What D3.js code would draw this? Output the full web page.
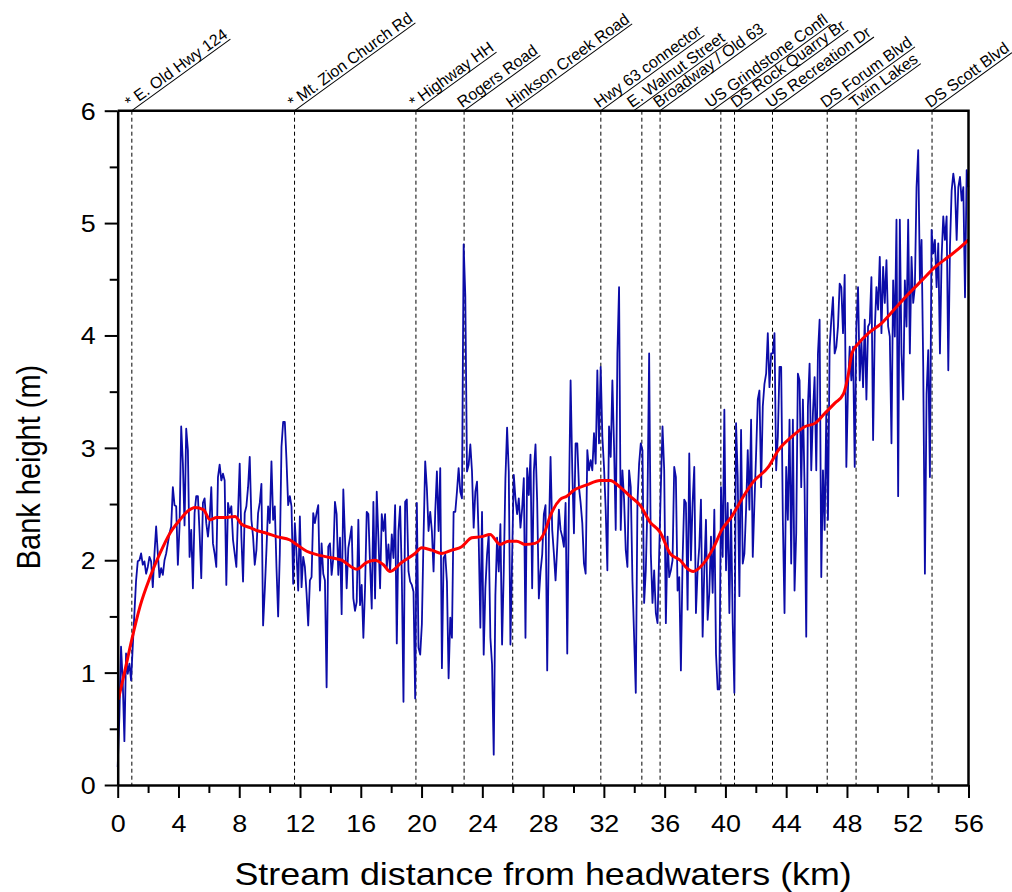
<!DOCTYPE html>
<html lang="en">
<head>
  <meta charset="utf-8">
  <title>Bank height along the stream</title>
  <script src="https://d3js.org/d3.v7.min.js"></script>
</head>
<style>
body {
  margin: 0;
  background: white;
}
svg text {
  font-family: "Liberation Sans", Arial, sans-serif;
  fill: black;
}
.frame {
  stroke: black;
  stroke-width: 2.5;
  fill: none;
}
.crossing-line {
  stroke: black;
  stroke-width: 1;
  stroke-dasharray: 4,3;
}
.crossing-label {
  font-size: 16px;
}
.crossing-underline {
  stroke: black;
  stroke-width: 1;
}
.tick-label {
  font-size: 24px;
}
.axis-title {
  font-size: 32px;
}
.y-title {
  font-size: 29px;
}
.bank-line {
  fill: none;
  stroke: #0c0ca8;
  stroke-width: 1.8;
  stroke-linejoin: round;
}
.smooth-line {
  fill: none;
  stroke: #ff0000;
  stroke-width: 3;
  stroke-linejoin: round;
}
</style>
<body>
  <div class="chart"></div>

  <script type="text/javascript">
  // bank height sampled every 0.11 km from the headwaters (m)
  var sampleStepKm = 0.11;
  var bankHeight = [
    0.16,0.61,1.23,0.93,0.39,1.17,0.99,1.08,0.93,1.23,
    1.53,1.82,1.99,2.00,2.06,1.96,1.99,1.88,1.94,2.03,
    1.99,1.76,2.06,2.30,2.06,1.85,1.93,1.87,2.00,2.06,
    2.15,2.24,2.30,2.65,2.49,2.48,1.96,2.30,3.19,2.86,
    2.31,3.17,2.98,2.03,2.27,1.75,2.42,2.57,2.57,2.24,
    1.84,2.51,2.55,2.33,2.21,2.36,2.65,2.15,2.06,1.94,
    2.74,2.85,2.71,2.77,2.71,1.78,2.51,2.42,2.48,2.18,
    2.06,1.94,2.42,2.86,2.21,1.81,2.42,2.48,2.65,2.92,
    2.36,2.21,1.96,2.09,2.42,2.51,2.68,1.42,1.73,2.09,
    2.48,2.33,2.88,2.36,2.48,1.94,1.50,2.06,3.01,3.23,
    3.23,2.89,2.49,2.57,2.48,1.79,2.33,2.06,1.73,2.39,
    1.76,2.03,1.94,1.71,1.42,1.82,1.85,2.42,2.33,2.42,
    2.49,1.73,2.15,1.88,1.82,0.87,2.12,2.15,
    1.87,2.02,2.52,2.41,1.87,2.20,1.52,2.63,2.20,1.75,
    2.11,2.20,2.30,1.66,1.55,1.63,2.36,1.60,1.78,1.31,
    1.75,2.43,2.41,1.96,1.57,2.52,1.66,2.61,2.20,1.75,
    2.41,2.26,2.41,1.93,2.14,1.90,2.23,2.02,2.49,1.26,
    2.26,2.48,1.87,0.74,2.52,2.54,1.90,1.81,1.78,1.72,
    0.77,2.51,1.22,1.16,1.43,2.20,2.88,2.64,2.26,2.43,
    2.26,1.90,2.43,2.79,2.26,2.82,1.04,2.02,2.05,1.81,
    0.95,1.49,1.31,2.43,2.43,2.61,2.82,2.61,2.55,4.81,
    4.35,2.79,2.85,3.03,2.79,2.29,2.61,2.70,2.20,1.40,
    2.43,1.16,1.75,2.05,2.23,1.31,1.07,0.27,1.69,2.20,
    1.90,2.32,1.25,1.90,2.73,3.18,2.79,1.25,2.02,2.76,
    2.55,2.41,2.55,2.29,2.46,2.73,1.31,2.82,2.58,2.94,
    1.75,2.79,3.03,2.52,1.66,1.90,2.05,2.41,2.49,
    1.02,2.21,2.92,2.27,2.06,1.82,2.12,2.45,2.27,2.21,
    2.12,2.51,1.17,2.51,3.60,2.80,2.24,3.04,3.04,2.65,
    2.51,2.33,1.97,1.88,2.98,2.80,2.89,2.80,3.13,2.86,
    3.69,3.04,3.72,3.10,2.83,2.45,1.91,3.19,2.92,3.60,
    3.01,2.27,3.84,4.43,2.27,2.80,2.54,2.09,1.94,2.80,
    2.65,1.82,1.32,0.82,2.51,2.86,3.04,2.98,1.62,1.91,
    2.51,3.84,2.06,1.62,1.91,1.53,1.44,2.06,2.65,3.19,
    2.80,1.44,2.21,1.85,1.91,2.00,2.83,2.74,1.73,1.85,
    1.02,2.00,2.54,2.51,1.56,2.95,2.00,2.51,2.83,1.53,
    1.91,2.12,2.54,1.32,1.91,2.36,1.47,1.71,2.21,1.71,
    2.45,1.17,0.85,0.85,2.65,2.03,3.34,1.91,2.51,1.53,
    2.45,1.44,0.82,3.22,2.74,1.68,3.16,1.97,2.06,2.45,
    2.98,2.45,3.25,2.03,2.51,2.95,3.43,3.51,
    2.65,3.37,3.57,3.66,4.02,3.54,3.84,3.84,4.02,2.80,
    3.10,3.72,3.72,2.36,1.53,2.83,2.36,3.25,1.97,3.25,
    1.73,2.24,3.66,3.60,2.65,3.43,2.65,1.32,3.37,3.75,
    2.80,3.31,3.63,2.80,3.84,4.14,1.85,2.80,2.27,3.31,
    2.36,3.90,4.14,4.34,3.84,3.90,4.08,4.46,4.43,4.02,
    4.54,2.83,3.54,3.90,3.60,3.90,2.83,4.08,4.43,3.60,
    3.96,3.54,4.14,3.43,4.08,4.11,4.52,3.07,4.05,4.43,
    4.23,4.70,4.02,4.61,4.29,4.67,4.08,3.99,3.04,4.49,
    3.99,5.03,2.57,5.03,3.84,3.43,4.49,4.08,5.03,3.84,
    4.70,4.29,4.43,5.32,5.65,4.49,4.85,3.72,1.88,3.48,
    3.87,2.74,4.94,4.73,4.85,4.43,4.82,3.84,4.70,5.06,
    4.85,5.06,3.69,4.79,5.29,5.44,5.32,4.85,5.32,5.41,
    5.20,5.32,4.34,5.47,5.32
  ];

  // smoothed trend (red)
  var smoothKm = [
    0.04,0.48,0.92,1.47,2.13,2.78,3.44,4.10,4.64,5.09,5.64,6.08,6.51,7.06,7.72,
    8.16,8.71,9.26,9.80,10.46,11.34,11.78,12.44,13.10,13.76,14.74,15.73,16.39,
    16.94,17.49,17.93,18.69,19.57,20.01,20.67,21.33,21.99,22.64,23.30,23.96,
    24.51,25.17,25.72,26.26,26.81,27.47,28.13,28.46,29.12,29.56,30.00,30.87,
    31.75,32.41,33.07,33.72,34.38,35.04,35.70,36.36,37.02,37.46,37.89,38.55,
    39.21,39.76,40.42,41.19,41.84,42.83,43.49,44.37,45.25,45.91,46.56,47.22,
    47.77,48.10,48.32,48.76,49.42,50.29,51.17,52.05,52.93,53.81,54.68,55.34,56.00
  ];
  var smoothHeight = [
    0.76,1.02,1.29,1.59,1.85,2.06,2.24,2.36,2.44,2.47,2.45,2.36,2.38,2.38,2.39,
    2.32,2.29,2.26,2.24,2.21,2.18,2.14,2.08,2.05,2.03,2.00,1.92,1.98,
    2.00,1.96,1.90,1.98,2.06,2.11,2.09,2.06,2.09,2.12,2.20,2.21,
    2.23,2.14,2.17,2.17,2.14,2.15,2.26,2.39,2.54,2.57,2.62,2.67,
    2.71,2.71,2.65,2.57,2.49,2.34,2.25,2.06,2.00,1.93,1.90,1.97,
    2.11,2.27,2.39,2.57,2.70,2.83,2.98,3.10,3.19,3.22,3.31,3.40,
    3.48,3.66,3.84,3.93,4.02,4.11,4.24,4.37,4.49,4.61,4.70,4.77,4.85
  ];

  // road crossings
  var crossingKm = [0.93, 11.64, 19.63, 22.8, 26.0, 31.8, 34.5, 35.7, 39.7, 40.6, 43.1, 46.7, 48.6, 53.6];
  var crossingName = [
    "* E. Old Hwy 124", "* Mt. Zion Church Rd", "* Highway HH", "Rogers Road",
    "Hinkson Creek Road", "Hwy 63 connector", "E. Walnut Street", "Broadway / Old 63",
    "US Grindstone Confl", "DS Rock Quarry Br", "US Recreation Dr", "DS Forum Blvd",
    "Twin Lakes", "DS Scott Blvd"
  ];

  var xTicks = [0, 4, 8, 12, 16, 20, 24, 28, 32, 36, 40, 44, 48, 52, 56];
  var xMinorTicks = [2, 6, 10, 14, 18, 22, 26, 30, 34, 38, 42, 46, 50, 54];
  var yTicks = [0, 1, 2, 3, 4, 5, 6];
  var yMinorTicks = [0.5, 1.5, 2.5, 3.5, 4.5, 5.5];

  var width = 1012;
  var height = 892;
  var plot = {left: 117.7, right: 968.5, top: 110.7, bottom: 785};
  var stretch = 1.12;
  var labelAngle = -36;
  // a few labels are nudged sideways so they don't collide
  var labelNudge = {"E. Walnut Street": -8, "US Grindstone Confl": -9, "DS Rock Quarry Br": 3};

  var svg = d3.select(".chart")
    .append("svg")
    .attr("width", width)
    .attr("height", height);

  var x = d3.scaleLinear().domain([0, 56]).range([plot.left, plot.right]);
  var y = d3.scaleLinear().domain([0, 6]).range([plot.bottom, plot.top]);

  var bankData = bankHeight.map(function(h, i) {
    return {km: i * sampleStepKm, h: h};
  });
  var smoothData = smoothKm.map(function(k, i) {
    return {km: k, h: smoothHeight[i]};
  });

  // crossings
  svg.selectAll(".crossing-line")
    .data(crossingKm)
    .enter()
    .append("line")
    .attr("class", "crossing-line")
    .attr("x1", function(d){ return x(d); })
    .attr("x2", function(d){ return x(d); })
    .attr("y1", plot.top)
    .attr("y2", plot.bottom);

  var labels = svg.selectAll(".crossing")
    .data(crossingKm)
    .enter()
    .append("g")
    .attr("class", "crossing")
    .attr("transform", function(d, i){
      var nudge = labelNudge[crossingName[i]] || 0;
      return "translate(" + (x(d) + nudge) + "," + plot.top + ") rotate(" + labelAngle + ")";
    });

  labels.append("text")
    .attr("class", "crossing-label")
    .attr("x", 0)
    .attr("y", -3)
    .text(function(d, i){ return crossingName[i]; });

  labels.each(function() {
    var g = d3.select(this);
    var len = g.select("text").node().getComputedTextLength();
    g.append("line")
      .attr("class", "crossing-underline")
      .attr("x1", 0)
      .attr("x2", len)
      .attr("y1", 0)
      .attr("y2", 0);
  });

  // data lines
  var bankLine = d3.line()
    .x(function(d){ return x(d.km); })
    .y(function(d){ return y(d.h); });

  svg.append("path")
    .datum(bankData)
    .attr("class", "bank-line")
    .attr("d", bankLine);

  var smoothLine = d3.line()
    .curve(d3.curveMonotoneX)
    .x(function(d){ return x(d.km); })
    .y(function(d){ return y(d.h); });

  svg.append("path")
    .datum(smoothData)
    .attr("class", "smooth-line")
    .attr("d", smoothLine);

  // frame top / right
  svg.append("path")
    .attr("class", "frame")
    .attr("d", "M" + plot.left + "," + plot.top + "H" + plot.right + "V" + plot.bottom);

  // x axis
  var xMinor = svg.append("g")
    .attr("transform", "translate(0," + plot.bottom + ")")
    .call(d3.axisBottom(x).tickValues(xMinorTicks).tickSize(8).tickSizeOuter(0).tickFormat(""));
  xMinor.select(".domain").remove();

  var xAxis = svg.append("g")
    .attr("transform", "translate(0," + plot.bottom + ")")
    .call(d3.axisBottom(x).tickValues(xTicks).tickSize(13).tickSizeOuter(0).tickFormat(d3.format("d")));

  xAxis.selectAll("text")
    .attr("class", "tick-label")
    .attr("y", 47)
    .attr("dy", null)
    .attr("transform", "scale(" + stretch + ",1)");

  // y axis
  var yMinor = svg.append("g")
    .attr("transform", "translate(" + plot.left + ",0)")
    .call(d3.axisLeft(y).tickValues(yMinorTicks).tickSize(8).tickSizeOuter(0).tickFormat(""));
  yMinor.select(".domain").remove();

  var yAxis = svg.append("g")
    .attr("transform", "translate(" + plot.left + ",0)")
    .call(d3.axisLeft(y).tickValues(yTicks).tickSize(13).tickSizeOuter(0).tickFormat(d3.format("d")));

  yAxis.selectAll("text")
    .attr("class", "tick-label")
    .attr("x", 0)
    .attr("dy", "0.35em")
    .attr("transform", "translate(-22,0) scale(" + stretch + ",1)");

  svg.selectAll(".domain").attr("stroke-width", 2.5);
  svg.selectAll(".tick line").attr("stroke-width", 2);

  // titles
  svg.append("text")
    .attr("class", "axis-title")
    .attr("text-anchor", "middle")
    .attr("transform", "translate(" + ((plot.left + plot.right) / 2) + ",885) scale(" + stretch + ",1)")
    .text("Stream distance from headwaters (km)");

  svg.append("text")
    .attr("class", "y-title")
    .attr("text-anchor", "middle")
    .attr("transform", "translate(40,467) scale(" + stretch + ",1) rotate(-90)")
    .text("Bank height (m)");
  </script>
</body>
</html>
